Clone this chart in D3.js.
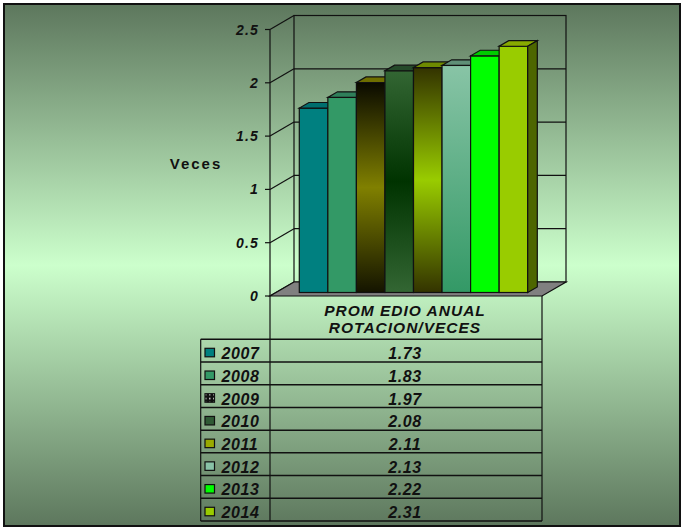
<!DOCTYPE html>
<html><head>
<meta charset="utf-8">
<title>Promedio anual rotacion/veces</title>
<script src="https://d3js.org/d3.v7.min.js"></script>
<style>
  body { margin: 0; background: #fff; }
  svg text { font-family: "Liberation Sans", Arial, sans-serif; font-weight: bold; fill: #111; }
  .tick-label { font-style: italic; font-size: 14px; letter-spacing: 1.2px; }
  .cell-text { font-style: italic; font-size: 16px; letter-spacing: 0.6px; }
  .grid { stroke: #111; stroke-width: 1.2; fill: none; }
</style>
</head>
<body>
<svg id="chart" width="684" height="529"></svg>
<script>
// data
let years = ["2007", "2008", "2009", "2010", "2011", "2012", "2013", "2014"];
let values = [1.73, 1.83, 1.97, 2.08, 2.11, 2.13, 2.22, 2.31];
let yTicks = [0, 0.5, 1, 1.5, 2, 2.5];
let tickText = ["0", "0.5", "1", "1.5", "2", "2.5"];
let headerLines = ["PROM EDIO ANUAL", "ROTACION/VECES"];
let axisTitle = "Veces";

// colours for front face, top face
let frontColors = ["#008080", "#339966", "url(#g2009)", "url(#g2010)", "url(#g2011)", "url(#g2012)", "#00ff00", "#99cc00"];
let topColors = ["#006e6e", "#2f7f5a", "#6e6e00", "#254a2a", "#6e8a00", "#5f8f77", "#00cc00", "#88aa00"];
let keyColors = ["#008080", "#339966", "#111", "#2f5a35", "#99aa00", "#88c2a6", "#00ff00", "#99cc00"];

let svg = d3.select("#chart");
let defs = svg.append("defs");

// background gradient
let bg = defs.append("linearGradient").attr("id", "bg").attr("x1", 0).attr("y1", 0).attr("x2", 0).attr("y2", 1);
bg.append("stop").attr("offset", "0%").attr("stop-color", "#5d775d");
bg.append("stop").attr("offset", "50%").attr("stop-color", "#ccffcc");
bg.append("stop").attr("offset", "100%").attr("stop-color", "#5d775d");

function vgrad(id, stops) {
  let g = defs.append("linearGradient").attr("id", id).attr("x1", 0).attr("y1", 0).attr("x2", 0).attr("y2", 1);
  stops.forEach(s => g.append("stop").attr("offset", s[0]).attr("stop-color", s[1]));
}
vgrad("g2009", [["0%", "#0a0a00"], ["50%", "#808000"], ["100%", "#141400"]]);
vgrad("g2010", [["0%", "#336633"], ["50%", "#003300"], ["100%", "#336633"]]);
vgrad("g2011", [["0%", "#333300"], ["50%", "#99cc00"], ["100%", "#333300"]]);
vgrad("g2012", [["0%", "#88c4a6"], ["100%", "#339966"]]);

// dotted pattern for 2009 legend key
let pat = defs.append("pattern").attr("id", "dots").attr("width", 4).attr("height", 4).attr("patternUnits", "userSpaceOnUse");
pat.append("rect").attr("width", 4).attr("height", 4).attr("fill", "#111");
pat.append("rect").attr("x", 1).attr("y", 1).attr("width", 1.5).attr("height", 1.5).attr("fill", "#ddd");
keyColors[2] = "url(#dots)";

svg.append("rect").attr("x", 4).attr("y", 4).attr("width", 676).attr("height", 522)
  .attr("fill", "url(#bg)").attr("stroke", "#111").attr("stroke-width", 2);

// 1. geometry
let axisX = 270, floorRight = 542;
let depthX = 24, depthY = -14;       // full floor depth
let y = d3.scaleLinear().domain([0, 2.5]).range([296, 29.5]);
let barPos = 0.25, barDepth = 0.4;   // bar placement inside the floor depth
let bx = depthX * barPos, by = depthY * barPos;
let bdx = depthX * barDepth, bdy = depthY * barDepth;
let x = d3.scaleBand().domain(years).range([299.3 - bx, 527.7 - bx]).padding(0);

// side wall diagonals and back wall
let walls = svg.append("g");
walls.append("rect").attr("class", "grid")
  .attr("x", axisX + depthX).attr("y", y(2.5) + depthY)
  .attr("width", floorRight - axisX).attr("height", y(0) - y(2.5));
walls.selectAll("line.back").data(yTicks.slice(1, 5)).join("line").attr("class", "grid back")
  .attr("x1", axisX + depthX).attr("x2", floorRight + depthX)
  .attr("y1", d => y(d) + depthY).attr("y2", d => y(d) + depthY);
walls.selectAll("line.side").data(yTicks).join("line").attr("class", "grid side")
  .attr("x1", axisX).attr("x2", axisX + depthX)
  .attr("y1", d => y(d)).attr("y2", d => y(d) + depthY);

// floor
walls.append("path")
  .attr("d", d3.line()([[axisX, y(0)], [floorRight, y(0)], [floorRight + depthX, y(0) + depthY], [axisX + depthX, y(0) + depthY]]) + "Z")
  .attr("fill", "#808080").attr("stroke", "#111").attr("stroke-width", 1.2);

// axis line, ticks, labels
walls.append("line").attr("class", "grid").attr("x1", axisX).attr("x2", axisX).attr("y1", y(2.5)).attr("y2", y(0));
walls.selectAll("line.tick").data(yTicks).join("line").attr("class", "grid tick")
  .attr("x1", axisX - 5).attr("x2", axisX).attr("y1", d => y(d)).attr("y2", d => y(d));
walls.selectAll("text.tick-label").data(yTicks).join("text").attr("class", "tick-label")
  .attr("x", 259).attr("y", d => y(d) + 5).attr("text-anchor", "end")
  .text((d, i) => tickText[i]);
svg.append("text").attr("x", 196).attr("y", 169).attr("text-anchor", "middle")
  .style("font-size", "15px").style("letter-spacing", "2px").text(axisTitle);

// 2. bars
let bars = svg.append("g").selectAll("g").data(years).join("g");
bars.append("rect")
  .attr("x", d => x(d) + bx).attr("y", (d, i) => y(values[i]) + by)
  .attr("width", x.bandwidth()).attr("height", (d, i) => y(0) - y(values[i]))
  .attr("fill", (d, i) => frontColors[i]).attr("stroke", "#111").attr("stroke-width", 1.2);
bars.append("path")
  .attr("d", (d, i) => {
    let x0 = x(d) + bx, x1 = x0 + x.bandwidth(), t = y(values[i]) + by;
    return d3.line()([[x0, t], [x1, t], [x1 + bdx, t + bdy], [x0 + bdx, t + bdy]]) + "Z";
  })
  .attr("fill", (d, i) => topColors[i]).attr("stroke", "#111").attr("stroke-width", 1.2);
// side face only visible on the last bar
bars.filter((d, i) => i === years.length - 1).append("path")
  .attr("d", (d, i) => {
    let v = values[years.length - 1];
    let x1 = x(d) + bx + x.bandwidth(), t = y(v) + by, b = y(0) + by;
    return d3.line()([[x1, t], [x1 + bdx, t + bdy], [x1 + bdx, b + bdy], [x1, b]]) + "Z";
  })
  .attr("fill", "#4d6600").attr("stroke", "#111").attr("stroke-width", 1.2);

// 3. data table
let rows = d3.scaleBand().domain(years).range([339.3, 521]);
let table = svg.append("g");
let tblLeft = 200.7;
table.selectAll("text.head").data(headerLines).join("text").attr("class", "cell-text head")
  .attr("x", 405).attr("y", (d, i) => 315.5 + i * 17).attr("text-anchor", "middle")
  .style("font-size", "15.5px").style("letter-spacing", "1px").text(d => d);
table.append("line").attr("class", "grid").attr("x1", axisX).attr("x2", axisX).attr("y1", y(0)).attr("y2", 521);
table.append("line").attr("class", "grid").attr("x1", floorRight).attr("x2", floorRight).attr("y1", y(0)).attr("y2", 521);
table.append("line").attr("class", "grid").attr("x1", tblLeft).attr("x2", tblLeft).attr("y1", 339.3).attr("y2", 521);
table.selectAll("line.row").data(years.concat(["end"])).join("line").attr("class", "grid row")
  .attr("x1", tblLeft).attr("x2", floorRight)
  .attr("y1", (d, i) => i < years.length ? rows(d) : 521)
  .attr("y2", (d, i) => i < years.length ? rows(d) : 521)
  .style("stroke-width", 1.5);

let rowG = table.selectAll("g.r").data(years).join("g").attr("class", "r")
  .attr("transform", d => "translate(0," + rows(d) + ")");
rowG.append("rect").attr("x", 205).attr("y", 9).attr("width", 9.5).attr("height", 8.5)
  .attr("fill", (d, i) => keyColors[i]).attr("stroke", "#111").attr("stroke-width", 1.2);
rowG.append("text").attr("class", "cell-text").attr("x", 221.5).attr("y", 19.8).text(d => d);
rowG.append("text").attr("class", "cell-text").attr("x", 405).attr("y", 19.8).attr("text-anchor", "middle")
  .text((d, i) => values[i].toFixed(2));
</script>
</body>
</html>
